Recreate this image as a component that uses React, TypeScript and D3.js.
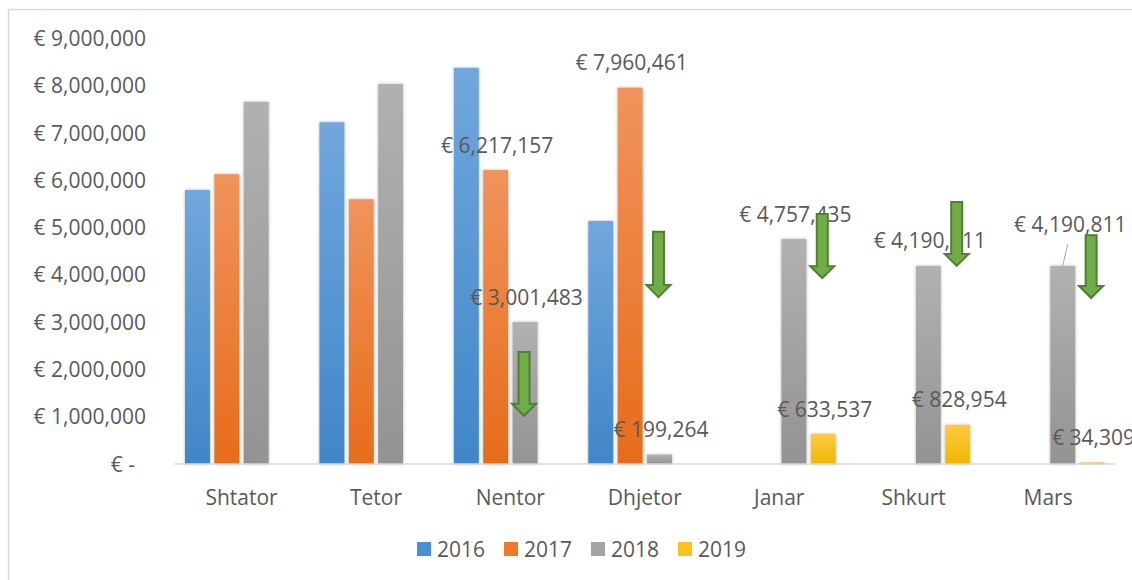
import React from "react";
import * as d3 from "d3";

const months = ["Shtator", "Tetor", "Nentor", "Dhjetor", "Janar", "Shkurt", "Mars"];
const seriesNames = ["2016", "2017", "2018", "2019"];
const values2016 = [5795000, 7230000, 8380000, 5140000, null, null, null];
const values2017 = [6130000, 5600000, 6217157, 7960461, null, null, null];
const values2018 = [7660000, 8040000, 3001483, 199264, 4757435, 4190811, 4190811];
const values2019 = [null, null, null, null, 633537, 828954, 34309];
const yTicks = [0, 1000000, 2000000, 3000000, 4000000, 5000000, 6000000, 7000000, 8000000, 9000000];

// which bars carry a data label
const labelled = [
  { month: "Nentor", series: "2017" },
  { month: "Nentor", series: "2018" },
  { month: "Dhjetor", series: "2017" },
  { month: "Dhjetor", series: "2018" },
  { month: "Janar", series: "2018" },
  { month: "Janar", series: "2019" },
  { month: "Shkurt", series: "2018" },
  { month: "Shkurt", series: "2019" },
  { month: "Mars", series: "2018" },
  { month: "Mars", series: "2019" },
];
// manually moved label (with leader line)
const movedLabels = [{ month: "Mars", series: "2018", dx: 6, dy: -16 }];

// green "decrease" arrows, in data units
const arrows = [
  { month: "Nentor", series: "2018", from: 2370000, to: 1020000 },
  { month: "Dhjetor", series: "2018", from: 4910000, to: 3530000 },
  { month: "Janar", series: "2019", from: 5290000, to: 3930000 },
  { month: "Shkurt", series: "2019", from: 5540000, to: 4190000 },
  { month: "Mars", series: "2019", from: 4840000, to: 3510000 },
];

const seriesValues: Record<string, (number | null)[]> = {
  "2016": values2016,
  "2017": values2017,
  "2018": values2018,
  "2019": values2019,
};

const gradients: Record<string, [string, string]> = {
  "2016": ["#71a7dd", "#4086c9"],
  "2017": ["#f1935c", "#e66c1a"],
  "2018": ["#b1b1b1", "#939393"],
  "2019": ["#ffc944", "#efb800"],
};
const legendColors: Record<string, string> = {
  "2016": "#4a8fd2",
  "2017": "#ee7a2e",
  "2018": "#a3a3a3",
  "2019": "#fcc21c",
};

const W = 1132;
const H = 580;
const FONT = "'Open Sans', 'Liberation Sans', sans-serif";
const TEXT = "#595959";

export default function App() {
  const x0 = d3.scaleBand<string>().domain(months).range([174.3, 1115.3]).padding(0);
  const bw0 = x0.bandwidth();
  const x1 = d3.scaleBand<string>().domain(seriesNames).range([10.7, bw0 - 10.7]).paddingInner(0.15).paddingOuter(0);
  const y = d3.scaleLinear().domain([0, 9000000]).range([464, 38.5]);
  const fmt = d3.format(",");
  const euro = (v: number) => (v === 0 ? "€ -  " : "€ " + fmt(v));

  const barX = (m: string, s: string) => (x0(m) as number) + (x1(s) as number);
  const barCx = (m: string, s: string) => barX(m, s) + x1.bandwidth() / 2;

  const arrowPath = (cx: number, yTop: number, yTip: number) => {
    const sw = 5.5, hw = 12, hh = 12;
    return `M${cx - sw},${yTop}L${cx + sw},${yTop}L${cx + sw},${yTip - hh}L${cx + hw},${yTip - hh}L${cx},${yTip}L${cx - hw},${yTip - hh}L${cx - sw},${yTip - hh}Z`;
  };

  return (
    <svg width={W} height={H} style={{ position: "absolute", left: 0, top: 0, background: "#fff" }} fontFamily={FONT}>
      <defs>
        {seriesNames.map((s) => (
          <linearGradient key={s} id={`g${s}`} x1="0" y1="0" x2="0" y2="1">
            <stop offset="0" stopColor={gradients[s][0]} />
            <stop offset="1" stopColor={gradients[s][1]} />
          </linearGradient>
        ))}
        <filter id="shadow" x="-30%" y="-10%" width="160%" height="120%">
          <feDropShadow dx="0" dy="0" stdDeviation="1.6" floodColor="#000" floodOpacity="0.3" />
        </filter>
      </defs>
      <rect x={8.5} y={9.5} width={W} height={H} fill="#fff" stroke="#d9d9d9" strokeWidth={1.5} />

      {/* y tick labels */}
      {yTicks.map((t) => (
        <text key={t} x={146} y={y(t)} dy="0.36em" textAnchor="end" fontSize={21} fill={TEXT} style={{ whiteSpace: "pre" }}>
          {euro(t)}
        </text>
      ))}

      {/* bars */}
      {seriesNames.map((s) =>
        months.map((m, i) => {
          const v = seriesValues[s][i];
          if (v == null) return null;
          return (
            <rect
              key={s + m}
              x={barX(m, s)}
              y={y(v)}
              width={x1.bandwidth()}
              height={y(0) - y(v)}
              fill={`url(#g${s})`}
              filter="url(#shadow)"
            />
          );
        })
      )}

      {/* baseline */}
      <line x1={x0.range()[0]} x2={x0.range()[1]} y1={y(0)} y2={y(0)} stroke="#d9d9d9" strokeWidth={1.5} />

      {/* category labels */}
      {months.map((m) => (
        <text key={m} x={(x0(m) as number) + bw0 / 2} y={505} textAnchor="middle" fontSize={21} fill={TEXT}>
          {m}
        </text>
      ))}

      {/* data labels */}
      {labelled.map(({ month, series }) => {
        const i = months.indexOf(month);
        const v = seriesValues[series][i] as number;
        const moved = movedLabels.find((d) => d.month === month && d.series === series);
        const cx = barCx(month, series) + 1.5 + (moved ? moved.dx : 0);
        const cy = y(v) - 25 + (moved ? moved.dy : 0);
        return (
          <g key={month + series}>
            {moved && (
              <line x1={cx - 2.5} y1={cy + 19} x2={barCx(month, series)} y2={y(v)} stroke="#a6a6a6" strokeWidth={1} />
            )}
            <text x={cx} y={cy} dy="0.36em" textAnchor="middle" fontSize={21} fill={TEXT}>
              {euro(v)}
            </text>
          </g>
        );
      })}

      {/* arrows */}
      {arrows.map((a) => (
        <path
          key={a.month}
          d={arrowPath(barCx(a.month, a.series) - 1, y(a.from), y(a.to))}
          fill="#70ad47"
          stroke="#507e32"
          strokeWidth={2}
          strokeLinejoin="miter"
        />
      ))}

      {/* legend */}
      {seriesNames.map((s, i) => (
        <g key={s} transform={`translate(${417 + i * 87},0)`}>
          <rect x={0} y={542} width={14} height={14} fill={legendColors[s]} />
          <text x={20} y={556.5} fontSize={21} fill={TEXT}>
            {s}
          </text>
        </g>
      ))}
    </svg>
  );
}
